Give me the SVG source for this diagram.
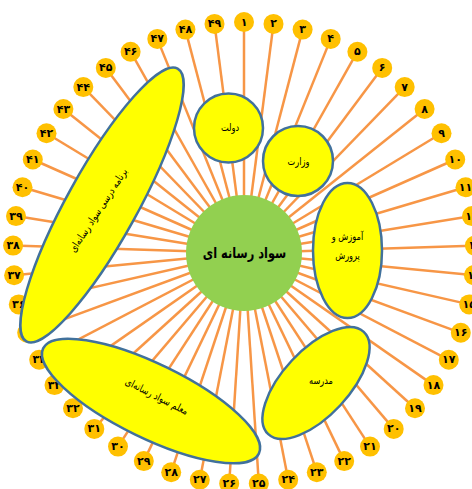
<svg xmlns="http://www.w3.org/2000/svg" width="472" height="489" viewBox="0 0 472 489">
<style>
.ln{stroke:#F79646;stroke-width:2.5}
.sc{fill:#FFC000}
.num{font-family:'DejaVu Sans',sans-serif;font-size:11px;font-weight:bold;fill:#000;text-anchor:middle;dominant-baseline:central}
.el{fill:#FFFF00;stroke:#41719C;stroke-width:2.5}
.lb{font-family:'DejaVu Sans',sans-serif;font-size:10.5px;fill:#000;text-anchor:middle;dominant-baseline:central}
</style>
<rect width="472" height="489" fill="#fff"/>
<g id="connectors">
<line class="ln" x1="244" y1="253" x2="244" y2="22"/>
<line class="ln" x1="244" y1="253" x2="273.5" y2="23.9"/>
<line class="ln" x1="244" y1="253" x2="302.6" y2="29.6"/>
<line class="ln" x1="244" y1="253" x2="330.7" y2="38.9"/>
<line class="ln" x1="244" y1="253" x2="357.4" y2="51.7"/>
<line class="ln" x1="244" y1="253" x2="382.2" y2="67.9"/>
<line class="ln" x1="244" y1="253" x2="404.7" y2="87.1"/>
<line class="ln" x1="244" y1="253" x2="424.6" y2="109"/>
<line class="ln" x1="244" y1="253" x2="441.5" y2="133.3"/>
<line class="ln" x1="244" y1="253" x2="455.2" y2="159.5"/>
<line class="ln" x1="244" y1="253" x2="465.5" y2="187.3"/>
<line class="ln" x1="244" y1="253" x2="472" y2="216.1"/>
<line class="ln" x1="244" y1="253" x2="474.9" y2="245.6"/>
<line class="ln" x1="244" y1="253" x2="473.9" y2="275.2"/>
<line class="ln" x1="244" y1="253" x2="469.2" y2="304.4"/>
<line class="ln" x1="244" y1="253" x2="460.8" y2="332.8"/>
<line class="ln" x1="244" y1="253" x2="448.8" y2="359.8"/>
<line class="ln" x1="244" y1="253" x2="433.5" y2="385.1"/>
<line class="ln" x1="244" y1="253" x2="415" y2="408.3"/>
<line class="ln" x1="244" y1="253" x2="393.7" y2="428.9"/>
<line class="ln" x1="244" y1="253" x2="370" y2="446.6"/>
<line class="ln" x1="244" y1="253" x2="344.2" y2="461.1"/>
<line class="ln" x1="244" y1="253" x2="316.8" y2="472.2"/>
<line class="ln" x1="244" y1="253" x2="288.2" y2="479.7"/>
<line class="ln" x1="244" y1="253" x2="258.8" y2="483.5"/>
<line class="ln" x1="244" y1="253" x2="229.2" y2="483.5"/>
<line class="ln" x1="244" y1="253" x2="199.8" y2="479.7"/>
<line class="ln" x1="244" y1="253" x2="171.2" y2="472.2"/>
<line class="ln" x1="244" y1="253" x2="143.8" y2="461.1"/>
<line class="ln" x1="244" y1="253" x2="118" y2="446.6"/>
<line class="ln" x1="244" y1="253" x2="94.3" y2="428.9"/>
<line class="ln" x1="244" y1="253" x2="73" y2="408.3"/>
<line class="ln" x1="244" y1="253" x2="54.5" y2="385.1"/>
<line class="ln" x1="244" y1="253" x2="39.2" y2="359.8"/>
<line class="ln" x1="244" y1="253" x2="27.2" y2="332.8"/>
<line class="ln" x1="244" y1="253" x2="18.8" y2="304.4"/>
<line class="ln" x1="244" y1="253" x2="14.1" y2="275.2"/>
<line class="ln" x1="244" y1="253" x2="13.1" y2="245.6"/>
<line class="ln" x1="244" y1="253" x2="16" y2="216.1"/>
<line class="ln" x1="244" y1="253" x2="22.5" y2="187.3"/>
<line class="ln" x1="244" y1="253" x2="32.8" y2="159.5"/>
<line class="ln" x1="244" y1="253" x2="46.5" y2="133.3"/>
<line class="ln" x1="244" y1="253" x2="63.4" y2="109"/>
<line class="ln" x1="244" y1="253" x2="83.3" y2="87.1"/>
<line class="ln" x1="244" y1="253" x2="105.8" y2="67.9"/>
<line class="ln" x1="244" y1="253" x2="130.6" y2="51.7"/>
<line class="ln" x1="244" y1="253" x2="157.3" y2="38.9"/>
<line class="ln" x1="244" y1="253" x2="185.4" y2="29.6"/>
<line class="ln" x1="244" y1="253" x2="214.5" y2="23.9"/>
</g>
<g id="numbers">
<g id="n1"><circle class="sc" cx="244" cy="22" r="10"/><text class="num" x="244" y="22">۱</text></g>
<g id="n2"><circle class="sc" cx="273.5" cy="23.9" r="10"/><text class="num" x="273.5" y="23.9">۲</text></g>
<g id="n3"><circle class="sc" cx="302.6" cy="29.6" r="10"/><text class="num" x="302.6" y="29.6">۳</text></g>
<g id="n4"><circle class="sc" cx="330.7" cy="38.9" r="10"/><text class="num" x="330.7" y="38.9">۴</text></g>
<g id="n5"><circle class="sc" cx="357.4" cy="51.7" r="10"/><text class="num" x="357.4" y="51.7">۵</text></g>
<g id="n6"><circle class="sc" cx="382.2" cy="67.9" r="10"/><text class="num" x="382.2" y="67.9">۶</text></g>
<g id="n7"><circle class="sc" cx="404.7" cy="87.1" r="10"/><text class="num" x="404.7" y="87.1">۷</text></g>
<g id="n8"><circle class="sc" cx="424.6" cy="109" r="10"/><text class="num" x="424.6" y="109">۸</text></g>
<g id="n9"><circle class="sc" cx="441.5" cy="133.3" r="10"/><text class="num" x="441.5" y="133.3">۹</text></g>
<g id="n10"><circle class="sc" cx="455.2" cy="159.5" r="10"/><text class="num" x="455.2" y="159.5">۱۰</text></g>
<g id="n11"><circle class="sc" cx="465.5" cy="187.3" r="10"/><text class="num" x="465.5" y="187.3">۱۱</text></g>
<g id="n12"><circle class="sc" cx="472" cy="216.1" r="10"/><text class="num" x="472" y="216.1">۱۲</text></g>
<g id="n13"><circle class="sc" cx="474.9" cy="245.6" r="10"/><text class="num" x="474.9" y="245.6">۱۳</text></g>
<g id="n14"><circle class="sc" cx="473.9" cy="275.2" r="10"/><text class="num" x="473.9" y="275.2">۱۴</text></g>
<g id="n15"><circle class="sc" cx="469.2" cy="304.4" r="10"/><text class="num" x="469.2" y="304.4">۱۵</text></g>
<g id="n16"><circle class="sc" cx="460.8" cy="332.8" r="10"/><text class="num" x="460.8" y="332.8">۱۶</text></g>
<g id="n17"><circle class="sc" cx="448.8" cy="359.8" r="10"/><text class="num" x="448.8" y="359.8">۱۷</text></g>
<g id="n18"><circle class="sc" cx="433.5" cy="385.1" r="10"/><text class="num" x="433.5" y="385.1">۱۸</text></g>
<g id="n19"><circle class="sc" cx="415" cy="408.3" r="10"/><text class="num" x="415" y="408.3">۱۹</text></g>
<g id="n20"><circle class="sc" cx="393.7" cy="428.9" r="10"/><text class="num" x="393.7" y="428.9">۲۰</text></g>
<g id="n21"><circle class="sc" cx="370" cy="446.6" r="10"/><text class="num" x="370" y="446.6">۲۱</text></g>
<g id="n22"><circle class="sc" cx="344.2" cy="461.1" r="10"/><text class="num" x="344.2" y="461.1">۲۲</text></g>
<g id="n23"><circle class="sc" cx="316.8" cy="472.2" r="10"/><text class="num" x="316.8" y="472.2">۲۳</text></g>
<g id="n24"><circle class="sc" cx="288.2" cy="479.7" r="10"/><text class="num" x="288.2" y="479.7">۲۴</text></g>
<g id="n25"><circle class="sc" cx="258.8" cy="483.5" r="10"/><text class="num" x="258.8" y="483.5">۲۵</text></g>
<g id="n26"><circle class="sc" cx="229.2" cy="483.5" r="10"/><text class="num" x="229.2" y="483.5">۲۶</text></g>
<g id="n27"><circle class="sc" cx="199.8" cy="479.7" r="10"/><text class="num" x="199.8" y="479.7">۲۷</text></g>
<g id="n28"><circle class="sc" cx="171.2" cy="472.2" r="10"/><text class="num" x="171.2" y="472.2">۲۸</text></g>
<g id="n29"><circle class="sc" cx="143.8" cy="461.1" r="10"/><text class="num" x="143.8" y="461.1">۲۹</text></g>
<g id="n30"><circle class="sc" cx="118" cy="446.6" r="10"/><text class="num" x="118" y="446.6">۳۰</text></g>
<g id="n31"><circle class="sc" cx="94.3" cy="428.9" r="10"/><text class="num" x="94.3" y="428.9">۳۱</text></g>
<g id="n32"><circle class="sc" cx="73" cy="408.3" r="10"/><text class="num" x="73" y="408.3">۳۲</text></g>
<g id="n33"><circle class="sc" cx="54.5" cy="385.1" r="10"/><text class="num" x="54.5" y="385.1">۳۳</text></g>
<g id="n34"><circle class="sc" cx="39.2" cy="359.8" r="10"/><text class="num" x="39.2" y="359.8">۳۴</text></g>
<g id="n35"><circle class="sc" cx="27.2" cy="332.8" r="10"/><text class="num" x="27.2" y="332.8">۳۵</text></g>
<g id="n36"><circle class="sc" cx="18.8" cy="304.4" r="10"/><text class="num" x="18.8" y="304.4">۳۶</text></g>
<g id="n37"><circle class="sc" cx="14.1" cy="275.2" r="10"/><text class="num" x="14.1" y="275.2">۳۷</text></g>
<g id="n38"><circle class="sc" cx="13.1" cy="245.6" r="10"/><text class="num" x="13.1" y="245.6">۳۸</text></g>
<g id="n39"><circle class="sc" cx="16" cy="216.1" r="10"/><text class="num" x="16" y="216.1">۳۹</text></g>
<g id="n40"><circle class="sc" cx="22.5" cy="187.3" r="10"/><text class="num" x="22.5" y="187.3">۴۰</text></g>
<g id="n41"><circle class="sc" cx="32.8" cy="159.5" r="10"/><text class="num" x="32.8" y="159.5">۴۱</text></g>
<g id="n42"><circle class="sc" cx="46.5" cy="133.3" r="10"/><text class="num" x="46.5" y="133.3">۴۲</text></g>
<g id="n43"><circle class="sc" cx="63.4" cy="109" r="10"/><text class="num" x="63.4" y="109">۴۳</text></g>
<g id="n44"><circle class="sc" cx="83.3" cy="87.1" r="10"/><text class="num" x="83.3" y="87.1">۴۴</text></g>
<g id="n45"><circle class="sc" cx="105.8" cy="67.9" r="10"/><text class="num" x="105.8" y="67.9">۴۵</text></g>
<g id="n46"><circle class="sc" cx="130.6" cy="51.7" r="10"/><text class="num" x="130.6" y="51.7">۴۶</text></g>
<g id="n47"><circle class="sc" cx="157.3" cy="38.9" r="10"/><text class="num" x="157.3" y="38.9">۴۷</text></g>
<g id="n48"><circle class="sc" cx="185.4" cy="29.6" r="10"/><text class="num" x="185.4" y="29.6">۴۸</text></g>
<g id="n49"><circle class="sc" cx="214.5" cy="23.9" r="10"/><text class="num" x="214.5" y="23.9">۴۹</text></g>
</g>
<g id="center">
<circle cx="244" cy="253" r="58" fill="#92D050"/>
<text transform="translate(244.5 253) scale(0.76 1)" font-family="'DejaVu Sans',sans-serif" font-size="15" font-weight="bold" text-anchor="middle" dominant-baseline="central">سواد رسانه ای</text>
</g>
<g id="dolat">
<circle class="el" cx="228.5" cy="128" r="34.5"/>
<text class="lb" transform="translate(230 127) scale(0.78 1)">دولت</text>
</g>
<g id="vezarat">
<circle class="el" cx="298" cy="161" r="35"/>
<text class="lb" transform="translate(298.5 161) scale(0.78 1)">وزارت</text>
</g>
<g id="amoozesh">
<ellipse class="el" cx="347.5" cy="250.5" rx="34.5" ry="67.5"/>
<text class="lb" transform="translate(347.5 236) scale(0.78 1)">آموزش و</text>
<text class="lb" transform="translate(347.5 255) scale(0.78 1)">پرورش</text>
</g>
<g id="madrese">
<ellipse class="el" cx="316" cy="383" rx="70" ry="33" transform="rotate(-47 316 383)"/>
<text class="lb" transform="translate(321 380) scale(0.78 1)">مدرسه</text>
</g>
<g id="moallem">
<ellipse class="el" cx="151" cy="401" rx="120" ry="37" transform="rotate(26 151 401)"/>
<text class="lb" transform="translate(157 396) rotate(27) scale(0.8 1)">معلم سواد رسانه‌ای</text>
</g>
<g id="barname">
<ellipse class="el" cx="102" cy="205" rx="156" ry="35" transform="rotate(-61 102 205)"/>
<text class="lb" transform="translate(98 210) rotate(-57) scale(0.8 1)">برنامه درسی سواد رسانه‌ای</text>
</g>
</svg>
